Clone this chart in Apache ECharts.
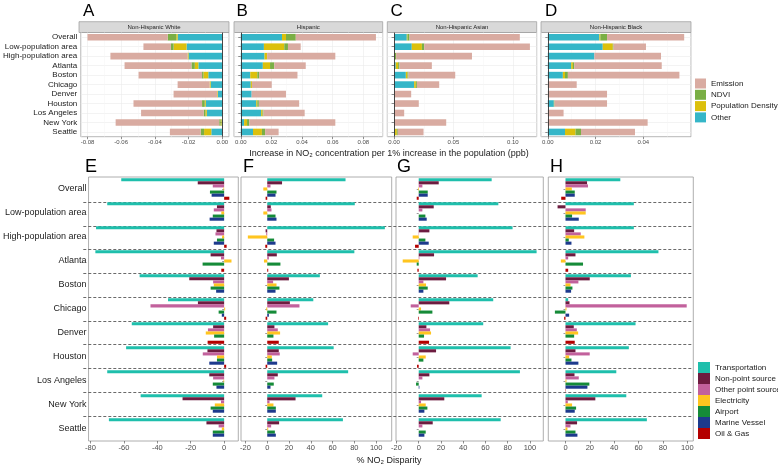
<!DOCTYPE html>
<html>
<head>
<meta charset="utf-8">
<script src="https://cdn.jsdelivr.net/npm/echarts@6/dist/echarts.min.js"></script>
<style>
  html, body { margin: 0; padding: 0; background: #fff; }
  #main { width: 778px; height: 469px; }
</style>
</head>
<body>
<div id="main"></div>
<script>
var cities = ['Overall', 'Low-population area', 'High-population area', 'Atlanta', 'Boston', 'Chicago',
  'Denver', 'Houston', 'Los Angeles', 'New York', 'Seattle'];
var groups = ['Non-Hispanic White', 'Hispanic', 'Non-Hispanic Asian', 'Non-Hispanic Black'];
var factors = ['Emission', 'NDVI', 'Population Density', 'Other'];
var sources = ['Transportation', 'Non-point source', 'Other point source', 'Electricity', 'Airport',
  'Marine Vessel', 'Oil & Gas'];

// top panels: ppb per 1% population increase, rows in factor order
var ppbWhite = [
  [-0.0476, -0.0163, -0.0458, -0.0397, -0.0377, -0.0190, -0.0259, -0.0407, -0.0372, -0.0615, -0.0183],
  [-0.0051, -0.0016, 0, -0.0020, -0.0008, 0, 0, -0.0016, -0.0010, -0.0008, -0.0020],
  [-0.0008, -0.0077, -0.0006, -0.0021, -0.0029, -0.0006, -0.0004, -0.0006, -0.0008, -0.0006, -0.0043],
  [-0.0265, -0.0212, -0.0200, -0.0142, -0.0083, -0.0069, -0.0026, -0.0098, -0.0092, -0.0004, -0.0065]
];
var ppbHispanic = [
  [0.0523, 0.0083, 0.0445, 0.0205, 0.0250, 0.0129, 0.0224, 0.0263, 0.0269, 0.0561, 0.0088],
  [0.0064, 0.0024, 0, 0.0028, 0.0012, 0, 0, 0.0010, 0.0006, 0.0015, 0.0021],
  [0.0026, 0.0133, 0.0017, 0.0047, 0.0046, 0.0008, 0, 0.0007, 0.0009, 0.0019, 0.0058],
  [0.0269, 0.0151, 0.0155, 0.0144, 0.0062, 0.0065, 0.0071, 0.0101, 0.0133, 0.0022, 0.0080]
];
var ppbAsian = [
  [0.0929, 0.0890, 0.0639, 0.0273, 0.0394, 0.0188, 0.0144, 0.0208, 0.0085, 0.0439, 0.0217],
  [0.0017, 0.0020, 0.0012, 0.0011, 0.0008, 0.0009, 0, 0, 0, 0, 0.0008],
  [0.0006, 0.0085, 0.0005, 0.0020, 0.0014, 0.0014, 0, 0, 0, 0, 0.0015],
  [0.0107, 0.0149, 0, 0.0014, 0.0099, 0.0169, 0, 0, 0, 0, 0.0008]
];
var ppbBlack = [
  [0.0323, 0.0136, 0.0279, 0.0366, 0.0467, 0.0121, 0.0248, 0.0220, 0.0066, 0.0418, 0.0226],
  [0.0028, 0.0003, 0, 0.0006, 0.0012, 0, 0, 0.0003, 0, 0, 0.0023],
  [0.0004, 0.0042, 0, 0.0007, 0.0009, 0, 0, 0, 0, 0, 0.0044],
  [0.0216, 0.0230, 0.0195, 0.0098, 0.0063, 0, 0, 0.0025, 0, 0, 0.0072]
];

// bottom panels: % NO2 disparity, rows in source order
var pctWhite = [
  [-61.6, -70, -76.7, -77.1, -50.6, -33.6, -55.3, -58.7, -70, -50, -69],
  [-15.8, -4.3, -4.6, -8.1, -20.9, -15.7, -6.6, -10, -8.9, -24.9, -10.6],
  [-6.8, -6.2, -5.2, -1.9, -6.6, -44.1, -9.7, -12.8, -6.6, -1.9, -3.3],
  [-0.4, -1.7, -1.2, 4.4, -6.2, 0.6, -11, -4.3, -0.4, -5.6, -1.4],
  [-8.5, -6.8, -4.3, -12.9, -8.1, -3.3, -6.0, -4.3, -6.8, -8.1, -6.8],
  [-7.5, -8.7, -6.2, 0, -4.8, -1.4, 0, -8.9, -4.6, -6.8, -6.8],
  [3.1, 0, 1.5, -1.7, 0, 1.2, -9.9, 1.2, 0, 0, 0]
];
var pctHispanic = [
  [71.9, 80.4, 108, 80, 48.3, 42.3, 55.9, 61, 74.3, 50.5, 69.5],
  [13.6, 3.3, -1.5, 8.8, 19.9, 20.8, 6.6, 10.6, 9.7, 26, 10.9],
  [3.0, 3.9, -0.9, 1.5, 5.4, 29.6, 9.7, 11.5, 6.6, 2.1, 3.6],
  [-3.6, -3.6, -17.8, -3, 8.5, -0.9, 11.8, 4.2, 0, 5.7, 0.9],
  [8.5, 7.6, 6.3, 12.1, 11.2, 8.5, 5.7, 4.5, 6.0, 7.9, 7],
  [7.6, 8.5, 7.6, 0, 7.6, 1.5, 0, 9.1, 3.0, 7.9, 7.9],
  [-1.5, 0, -1.8, 0.9, 0, -1.5, 10.6, -1.5, 0, 0, 0]
];
var pctAsian = [
  [65.6, 71.6, 84.4, 106, 53, 67, 58, 82.6, 91, 56.6, 73.7],
  [18, 13.5, 9.6, 13.8, 24.6, 27.5, 6.9, 15.6, 9.6, 23, 12.6],
  [3.3, 3.3, 0.3, 0.6, 4.2, -7.2, 10.2, -5.4, 3.3, 2.1, 3.3],
  [-0.6, 0, -5.4, -14.4, 6.6, 2.1, 11.1, 6.3, 0, 6.3, 0],
  [8.1, 6, 6, -1.8, 8.1, 12.3, 4.8, 4.2, -2.4, 7.8, 6.3],
  [8.1, 7.2, 9, 0, 4.2, 0, 0, 0, 0.6, 5.1, 5.1],
  [-1.8, 0, -3.3, -1.2, 0, -0.6, 9.3, -1.5, 0, 0, 0]
];
var pctBlack = [
  [45, 56.1, 56.1, 76.3, 53.7, 2.2, 57.5, 52, 41.7, 49.9, 66.8],
  [17.7, -6.5, 7.1, 8.2, 19.9, 3.3, 6.8, 8.2, 7.4, 24.5, 9.5],
  [18.5, 16.6, 12.5, 2.2, 10.6, 99.5, 9.3, 19.9, 10.9, 1.9, 4.1],
  [5.2, 16.6, 15.5, -3.8, 4.1, 0.8, 10.4, 3, 0.8, 5.4, 1.6],
  [7.6, 5.4, 2.7, 14.4, 5.7, -8.7, 7.1, 4.9, 19.6, 8.7, 8.2],
  [7.6, 10.9, 4.9, 0, 4.6, 3, 0, 10.6, 18, 7.6, 9.8],
  [-3.5, 0, 0, 2.2, 0, -1.1, 7.6, 0, 0.3, 0, 0]
];

var factorColors = ['#d9aba1', '#7aaf45', '#dcc00c', '#35b6c8'];
var sourceColors = ['#1fbfac', '#6d1c40', '#c2619c', '#ffc51f', '#158b38', '#1d3a8d', '#b40000'];

var font = "'Liberation Sans', Arial, sans-serif";
var topData = [ppbWhite, ppbHispanic, ppbAsian, ppbBlack];
var bottomData = [pctWhite, pctHispanic, pctAsian, pctBlack];
var topLeft = [79, 234, 387.3, 541], topWidth = [150, 148.7, 149.4, 150];
var botLeft = [83.3, 241, 396, 548.3], botWidth = [155, 150.7, 147.3, 145];
var topSplit = [5, 5, 3, 3], botSplit = [5, 6, 6, 6];
var letters = ['A', 'B', 'C', 'D', 'E', 'F', 'G', 'H'];

// ggplot-like 5% padding around the data range
function padded(lo, hi) {
  var d = (hi - lo) * 0.05;
  return [lo - d, hi + d];
}
function stackRange(panel) {
  var lo = 0, hi = 0;
  cities.forEach(function (c, r) {
    var neg = 0, pos = 0;
    panel.forEach(function (s) { if (s[r] < 0) neg += s[r]; else pos += s[r]; });
    lo = Math.min(lo, neg);
    hi = Math.max(hi, pos);
  });
  return padded(lo, hi);
}
function flatRange(panel) {
  var all = [0].concat.apply([0], panel);
  return padded(Math.min.apply(null, all), Math.max.apply(null, all));
}

var grids = [], xAxes = [], yAxes = [], series = [];

topData.forEach(function (panel, i) {
  var range = stackRange(panel);
  grids.push({ left: topLeft[i], width: topWidth[i], top: 32.5, height: 104.2,
    show: true, borderColor: '#9a9a9a', borderWidth: 0.7 });
  xAxes.push({
    gridIndex: i, type: 'value', min: range[0], max: range[1], splitNumber: topSplit[i],
    axisLine: { show: false },
    axisTick: { show: true, length: 2.5, lineStyle: { color: '#444', width: 0.6 } },
    axisLabel: { fontSize: 6, color: '#4d4d4d', margin: 3, showMinLabel: false, showMaxLabel: false,
      formatter: function (v) { return v.toFixed(2); } },
    splitLine: { show: true, lineStyle: { color: '#ebebeb', width: 0.6 } },
    minorTick: { show: false, splitNumber: 2 },
    minorSplitLine: { show: true, lineStyle: { color: '#f5f5f5', width: 0.5 } }
  });
  yAxes.push({
    gridIndex: i, type: 'category', data: cities, inverse: true,
    axisLine: { show: false },
    axisTick: { show: true, alignWithLabel: true, interval: 0, length: 2.5, lineStyle: { color: '#444', width: 0.6 } },
    axisLabel: { show: i === 0, interval: 0, fontSize: 8, color: '#1a1a1a', margin: 3.5 },
    splitLine: { show: true, interval: 0, alignWithLabel: true, lineStyle: { color: '#ebebeb', width: 0.6 } }
  });
  // stack from zero outward: Other, Population Density, NDVI, Emission
  for (var f = factors.length - 1; f >= 0; f--) {
    var s = {
      name: factors[f], type: 'bar', xAxisIndex: i, yAxisIndex: i, stack: 'ppb' + i,
      data: panel[f], barCategoryGap: '30%', itemStyle: { color: factorColors[f] }
    };
    if (f === 0) {
      s.markLine = { silent: true, symbol: 'none', label: { show: false },
        lineStyle: { color: '#333', type: 'solid', width: 0.9 }, data: [{ xAxis: 0 }] };
    }
    series.push(s);
  }
});

bottomData.forEach(function (panel, i) {
  var g = 4 + i;
  var range = flatRange(panel);
  grids.push({ left: botLeft[i], width: botWidth[i], top: 177, height: 264,
    show: true, borderColor: '#9a9a9a', borderWidth: 0.8 });
  xAxes.push({
    gridIndex: g, type: 'value', min: range[0], max: range[1], splitNumber: botSplit[i],
    axisLine: { show: false },
    axisTick: { show: true, length: 2.5, lineStyle: { color: '#444', width: 0.6 } },
    axisLabel: { fontSize: 7.5, color: '#4d4d4d', margin: 3, showMinLabel: false, showMaxLabel: false },
    splitLine: { show: false }
  });
  yAxes.push({
    gridIndex: g, type: 'category', data: cities, inverse: true,
    axisLine: { show: false },
    axisTick: { show: true, alignWithLabel: true, interval: 0, length: 2, lineStyle: { color: '#555', width: 0.6 } },
    axisLabel: { show: i === 0, interval: 0, fontSize: 9, color: '#1a1a1a', margin: 2 }
  });
  sources.forEach(function (name, k) {
    series.push({
      name: name, type: 'bar', xAxisIndex: g, yAxisIndex: g, data: panel[k],
      barCategoryGap: '10%', barGap: '0%', itemStyle: { color: sourceColors[k] }
    });
  });
});

// dashed separators between the city groups, spanning panels E-H
grids.push({ left: botLeft[0], right: 778 - (botLeft[3] + botWidth[3]), top: 202, height: 214 });
xAxes.push({ gridIndex: 8, type: 'value', min: 0, max: 1, show: false });
yAxes.push({
  gridIndex: 8, type: 'value', min: 0, max: cities.length - 2, interval: 1, inverse: true,
  axisLine: { show: false }, axisTick: { show: false }, axisLabel: { show: false },
  splitLine: { show: true, lineStyle: { type: [3, 2], color: '#444', width: 0.8 } }
});

var titles = letters.map(function (t, i) {
  var lefts = [83, 236.5, 390.5, 545, 85, 243, 397, 550];
  return { text: t, left: lefts[i], top: i < 4 ? 3 : 158, padding: 0,
    textStyle: { fontSize: i < 4 ? 17 : 18, fontWeight: 'normal', color: '#000', fontFamily: font } };
});
titles.push({ text: 'Increase in NO\u2082 concentration per 1% increase in the population (ppb)',
  left: 'center', top: 149.5, padding: 0,
  textStyle: { fontSize: 9, fontWeight: 'normal', color: '#1a1a1a', fontFamily: font } });
titles.push({ text: '% NO\u2082 Disparity', left: 'center', top: 456, padding: 0,
  textStyle: { fontSize: 9, fontWeight: 'normal', color: '#1a1a1a', fontFamily: font } });

var strips = [];
groups.forEach(function (name, i) {
  strips.push({ type: 'rect', silent: true,
    shape: { x: topLeft[i], y: 21.7, width: topWidth[i], height: 10.8 },
    style: { fill: '#d9d9d9', stroke: '#9a9a9a', lineWidth: 0.7 } });
  strips.push({ type: 'text', silent: true, x: topLeft[i] + topWidth[i] / 2, y: 27.1,
    style: { text: name, fill: '#1a1a1a', font: '6px ' + font,
      align: 'center', verticalAlign: 'middle', textAlign: 'center', textVerticalAlign: 'middle' } });
});

var chart = echarts.init(document.getElementById('main'));
chart.setOption({
  animation: false,
  textStyle: { fontFamily: font },
  title: titles,
  graphic: strips,
  legend: [{
    data: factors, orient: 'vertical', left: 695, top: 78.5, icon: 'rect',
    itemWidth: 11, itemHeight: 10, itemGap: 1.3, padding: 0,
    textStyle: { fontSize: 8, color: '#1a1a1a' }
  }, {
    data: sources, orient: 'vertical', left: 698, top: 362, icon: 'rect',
    itemWidth: 12, itemHeight: 11, itemGap: 0, padding: 0,
    textStyle: { fontSize: 8, color: '#1a1a1a' }
  }],
  grid: grids,
  xAxis: xAxes,
  yAxis: yAxes,
  series: series
});
</script>
</body>
</html>
